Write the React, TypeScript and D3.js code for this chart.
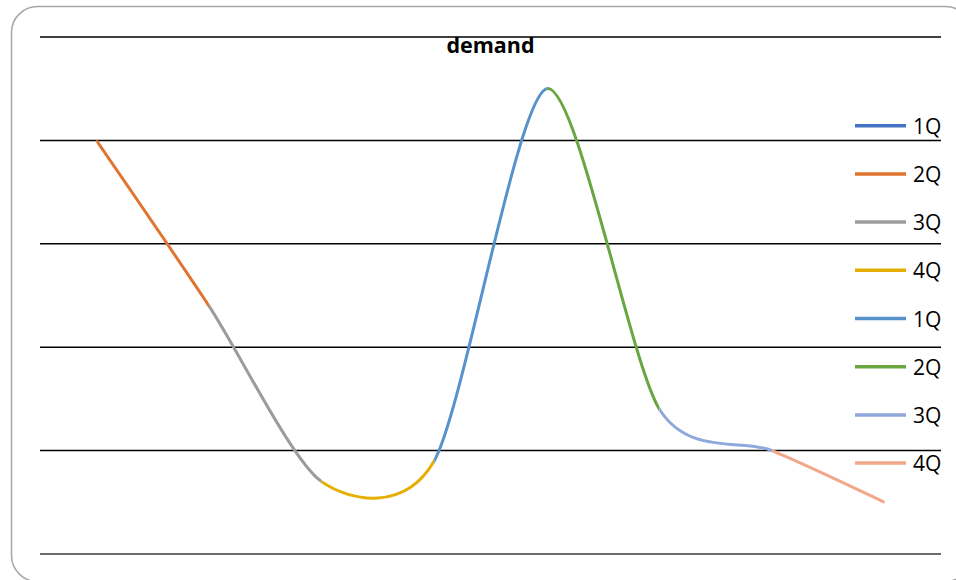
import React from "react";
import * as d3 from "d3";

// Quarterly demand, one colour per point (segment ending at that point)
const categories = ["1Q", "2Q", "3Q", "4Q", "1Q", "2Q", "3Q", "4Q"];
const demand = [200, 120, 35, 45, 225, 70, 50, 25];
const pointColors = [
  "#4472C4",
  "#E0752F",
  "#9C9C9C",
  "#E5AE00",
  "#5892CB",
  "#69A541",
  "#8FA9DC",
  "#F2A789",
];
const yTicks = [0, 50, 100, 150, 200, 250];

const W = 956;
const H = 580;
const plot = { left: 40, right: 941, top: 37, bottom: 554 };

export default function App() {
  const idx = categories.map((_, i) => i);
  const x = d3
    .scaleBand<number>()
    .domain(idx)
    .range([plot.left, plot.right])
    .paddingInner(0)
    .paddingOuter(0);
  const cx = (i: number) => (x(i) as number) + x.bandwidth() / 2;
  const y = d3.scaleLinear().domain([0, 250]).range([plot.bottom, plot.top]);

  const line = d3
    .line<number>()
    .x((_, i) => cx(i))
    .y((d) => y(d))
    .curve(d3.curveCardinal.tension(0.22));
  const pathD = line(demand) || "";

  const legendX = 855;
  const legendTop = 125.7;
  const legendStep = 48.2;

  return (
    <div style={{ position: "fixed", left: 0, top: 0, width: W, height: H }}>
      <svg width={W} height={H} style={{ display: "block" }}>
        <rect x={0} y={0} width={W} height={H} fill="#fff" />
        <rect
          x={11.5}
          y={6.5}
          width={960}
          height={575}
          rx={26}
          ry={26}
          fill="#fff"
          stroke="#a6a6a6"
          strokeWidth={1.5}
        />
        <defs>
          {idx.slice(1).map((i) => (
            <clipPath id={`seg-${i}`} key={i}>
              <rect x={cx(i - 1)} y={0} width={cx(i) - cx(i - 1)} height={H} />
            </clipPath>
          ))}
        </defs>
        {yTicks.map((t) => (
          <line
            key={t}
            x1={plot.left}
            x2={plot.right}
            y1={y(t)}
            y2={y(t)}
            stroke={t === 0 ? "#3a3a3a" : "#000"}
            strokeWidth={1.5}
          />
        ))}
        <text
          x={490.5}
          y={53}
          textAnchor="middle"
          fontFamily="'Open Sans', sans-serif"
          fontWeight={700}
          fontSize={21.5}
          fill="#000"
        >
          demand
        </text>
        {idx.slice(1).map((i) => (
          <path
            key={i}
            d={pathD}
            fill="none"
            stroke={pointColors[i]}
            strokeWidth={3}
            clipPath={`url(#seg-${i})`}
          />
        ))}
        {categories.map((c, i) => {
          const ly = legendTop + i * legendStep;
          return (
            <g key={i}>
              <line
                x1={legendX}
                x2={legendX + 51}
                y1={ly}
                y2={ly}
                stroke={pointColors[i]}
                strokeWidth={3.5}
              />
              <text
                x={913}
                y={ly + 8}
                fontFamily="'Open Sans', sans-serif"
                fontSize={21}
                fill="#000"
              >
                {c}
              </text>
            </g>
          );
        })}
      </svg>
    </div>
  );
}
